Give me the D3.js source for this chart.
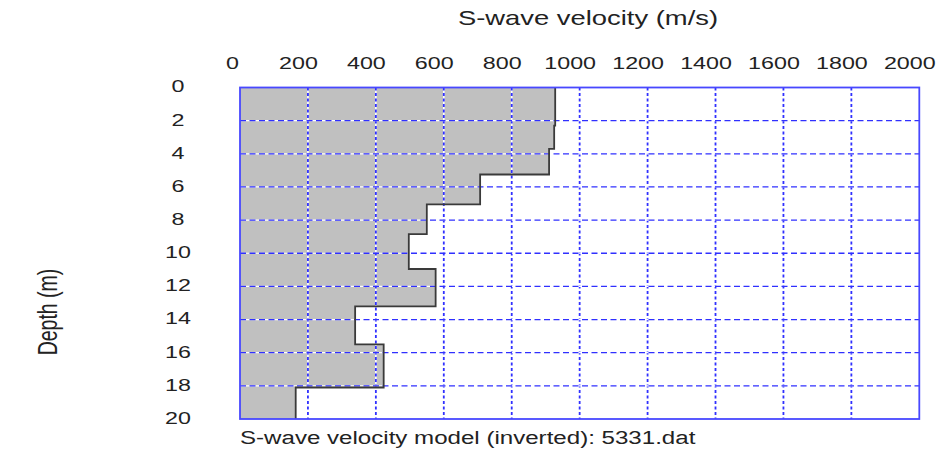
<!DOCTYPE html>
<html lang="en">
<head>
  <meta charset="UTF-8">
  <title>S-wave velocity model</title>
  <script src="https://d3js.org/d3.v7.min.js"></script>
  <style>
    body { margin: 0; background: #fff; }
    text { font-family: "Liberation Sans", Arial, sans-serif; fill: #222; }
  </style>
</head>
<body>
  <svg width="950" height="452"></svg>
  <script>
    // layer tops (m) and S-wave velocity of each layer (m/s)
    const layerTop = [0, 2.3, 3.7, 5.25, 7.05, 8.85, 10.95, 13.2, 15.5, 18.1];
    const vs = [928, 925, 910, 707, 550, 497, 576, 339, 423, 164];
    const maxDepth = 20;

    const xTicks = [0, 200, 400, 600, 800, 1000, 1200, 1400, 1600, 1800, 2000];
    const xTickLabels = ["0", "200", "400", "600", "800", "1000", "1200", "1400", "1600", "1800", "2000"];
    const yTicks = [0, 2, 4, 6, 8, 10, 12, 14, 16, 18, 20];
    const yTickLabels = ["0", "2", "4", "6", "8", "10", "12", "14", "16", "18", "20"];

    const stretch = 1.37; // the source picture is wider than tall, text gets stretched
    const svg = d3.select("svg");
    const x = d3.scaleLinear().domain([0, 2000]).range([240, 919.3]);
    const y = d3.scaleLinear().domain([0, maxDepth]).range([87.5, 419]);

    // profile as steps
    const pts = [];
    vs.forEach((v, i) => {
      const bot = i < vs.length - 1 ? layerTop[i + 1] : maxDepth;
      pts.push([v, layerTop[i]], [v, bot]);
    });

    const area = [[0, 0], ...pts, [0, maxDepth]];
    svg.append("path")
      .attr("d", d3.line().x(d => x(d[0])).y(d => y(d[1]))(area) + "Z")
      .attr("fill", "#c0c0c0");

    // grid: white under, blue dashes over
    const grid = svg.append("g");
    xTicks.slice(1, -1).forEach(t => {
      grid.append("line").attr("x1", x(t)).attr("x2", x(t)).attr("y1", y(0)).attr("y2", y(maxDepth))
        .attr("stroke", "#fff").attr("stroke-width", 1.6);
      grid.append("line").attr("x1", x(t)).attr("x2", x(t)).attr("y1", y(0)).attr("y2", y(maxDepth))
        .attr("stroke", "#3030ff").attr("stroke-width", 1.8).attr("stroke-dasharray", "3,2.5");
    });
    yTicks.slice(1, -1).forEach(t => {
      grid.append("line").attr("x1", x(0)).attr("x2", x(2000)).attr("y1", y(t)).attr("y2", y(t))
        .attr("stroke", "#fff").attr("stroke-width", 1.2);
      grid.append("line").attr("x1", x(0)).attr("x2", x(2000)).attr("y1", y(t)).attr("y2", y(t))
        .attr("stroke", "#3030ff").attr("stroke-width", 1.3).attr("stroke-dasharray", "6,3.5");
    });

    // step line
    svg.append("path")
      .attr("d", d3.line().x(d => x(d[0])).y(d => y(d[1]))(pts))
      .attr("fill", "none").attr("stroke", "#3a3a3a").attr("stroke-width", 1.8);

    // frame
    svg.append("rect")
      .attr("x", x(0)).attr("y", y(0))
      .attr("width", x(2000) - x(0)).attr("height", y(maxDepth) - y(0))
      .attr("fill", "none").attr("stroke", "#4848ff").attr("stroke-width", 1.8);

    // top axis labels
    const xAxis = svg.append("g").attr("transform", "translate(0,69)")
      .call(d3.axisTop(x).tickValues(xTicks).tickSize(0).tickFormat((d, i) => xTickLabels[i]));
    xAxis.select(".domain").remove();
    xAxis.selectAll("text")
      .attr("y", 0).attr("dy", 0)
      .attr("transform", d => `translate(${d === 0 ? -8 : -10},0) scale(${stretch},1)`)
      .style("font-size", "17px").attr("fill", "#222");

    // left axis labels
    const yAxis = svg.append("g").attr("transform", "translate(178,0)")
      .call(d3.axisLeft(y).tickValues(yTicks).tickSize(0).tickFormat((d, i) => yTickLabels[i]));
    yAxis.select(".domain").remove();
    yAxis.selectAll("text")
      .attr("x", 0).attr("dy", "0.34em").attr("text-anchor", "middle")
      .attr("transform", `translate(0,-1.4) scale(${stretch},1)`)
      .style("font-size", "17px").attr("fill", "#222");

    // titles
    svg.append("text")
      .attr("transform", `translate(588,25) scale(${stretch},1)`)
      .attr("text-anchor", "middle").style("font-size", "20px")
      .text("S-wave velocity (m/s)");

    svg.append("text")
      .attr("transform", `translate(57,312) scale(${stretch},1) rotate(-90)`)
      .attr("text-anchor", "middle").style("font-size", "19.5px")
      .text("Depth (m)");

    svg.append("text")
      .attr("transform", `translate(240,444) scale(${stretch},1)`)
      .style("font-size", "17.6px")
      .text("S-wave velocity model (inverted): 5331.dat");
  </script>
</body>
</html>
